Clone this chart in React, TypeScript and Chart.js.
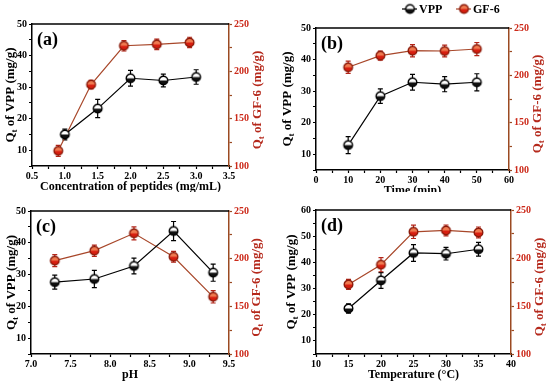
import React, { useEffect, useRef } from 'react';
import { Chart, registerables } from 'chart.js';

Chart.register(...registerables);

const FONT = "'Liberation Serif', 'Times New Roman', serif";

// ---- Panel (a): concentration of peptides ----
const aVppX = [1.0, 1.5, 2.0, 2.5, 3.0];
const aVpp = [15.0, 23.2, 32.8, 32.1, 33.2];
const aVppErr = [1.7, 2.9, 2.5, 2.0, 2.3];
const aGfX = [0.9, 1.4, 1.9, 2.4, 2.9];
const aGf = [116, 186, 227, 228.5, 230.5];
const aGfErr = [5.8, 4.6, 5.5, 5.6, 5.5];

// ---- Panel (b): time ----
const bX = [10, 20, 30, 40, 50];
const bVpp = [12.9, 28.4, 32.8, 32.2, 32.8];
const bVppErr = [2.7, 2.3, 2.5, 2.4, 2.7];
const bGf = [208.5, 220.8, 226.0, 225.7, 227.8];
const bGfErr = [6.5, 4.8, 6.5, 6.2, 6.9];

// ---- Panel (c): pH ----
const cX = [7.3, 7.8, 8.3, 8.8, 9.3];
const cVpp = [27.6, 28.6, 32.7, 43.7, 30.6];
const cVppErr = [2.2, 2.7, 2.5, 3.0, 2.7];
const cGf = [197.9, 208.4, 226.6, 202.0, 160.0];
const cGfErr = [6.3, 5.9, 6.8, 5.6, 6.5];

// ---- Panel (d): temperature ----
const dX = [15, 20, 25, 30, 35];
const dVpp = [22.4, 33.1, 43.6, 43.3, 45.0];
const dVppErr = [1.8, 3.0, 3.2, 2.4, 2.6];
const dGf = [172.5, 193.0, 227.3, 228.7, 226.6];
const dGfErr = [5.2, 7.3, 7.0, 5.7, 5.7];

// axis ranges: [min, max, minorStep, majorStep, decimals]
const aXAxis = [0.5, 3.5, 0.25, 0.5, 1];
const bXAxis = [0, 60, 5, 10, 0];
const cXAxis = [7.0, 9.5, 0.25, 0.5, 1];
const dXAxis = [10, 40, 2.5, 5, 0];
const vppAxisA = [5, 50, 5, 10];
const vppAxisD = [5, 60, 5, 10];
const gfAxis = [100, 250, 25, 50];

const seriesNames = ['VPP', 'GF-6'];
const panelLabels = ['(a)', '(b)', '(c)', '(d)'];
const xTitles = ['Concentration of peptides (mg/mL)', 'Time (min)', 'pH', 'Temperature (\u00B0C)'];

const BLACK = '#000000';
const RED_LINE = '#a8472a';
const RED_ERR = '#b3261a';
const RED_AXIS = '#9b4a22';
const RED_TICK = '#cc2a1a';
const RED_TITLE = '#b5291c';

function makeMarker(top: string, bottom: string, stroke: string, r = 4.3) {
  const c = document.createElement('canvas');
  const s = Math.ceil(r * 2 + 4);
  c.width = s;
  c.height = s;
  const ctx = c.getContext('2d')!;
  const cx = s / 2, cy = s / 2;
  ctx.beginPath();
  ctx.arc(cx, cy, r, 0, Math.PI * 2);
  ctx.fillStyle = top;
  ctx.fill();
  ctx.beginPath();
  ctx.arc(cx, cy, r, 0, Math.PI);
  ctx.closePath();
  ctx.fillStyle = bottom;
  ctx.fill();
  ctx.beginPath();
  ctx.arc(cx, cy, r, 0, Math.PI * 2);
  ctx.lineWidth = 1.4;
  ctx.strokeStyle = stroke;
  ctx.stroke();
  return c;
}

interface PanelCfg {
  idx: number;
  pos: { left: number; top: number; w: number; h: number };
  area: { l: number; r: number; t: number; b: number };
  xAxis: number[];
  yAxis: number[];
  vppX: number[]; vpp: number[]; vppErr: number[];
  gfX: number[]; gf: number[]; gfErr: number[];
  leftTitleX: number;
  rightTitleX: number;
  legend?: boolean;
}

const panels: PanelCfg[] = [
  {
    idx: 0, pos: { left: 0, top: 0, w: 275, h: 192 }, area: { l: 32, r: 229, t: 24, b: 166 },
    xAxis: aXAxis, yAxis: vppAxisA,
    vppX: aVppX, vpp: aVpp, vppErr: aVppErr, gfX: aGfX, gf: aGf, gfErr: aGfErr,
    leftTitleX: 11, rightTitleX: 258,
  },
  {
    idx: 1, pos: { left: 275, top: 0, w: 275, h: 192 }, area: { l: 41, r: 234, t: 28, b: 170 },
    xAxis: bXAxis, yAxis: vppAxisA,
    vppX: bX, vpp: bVpp, vppErr: bVppErr, gfX: bX, gf: bGf, gfErr: bGfErr,
    leftTitleX: 13, rightTitleX: 263, legend: true,
  },
  {
    idx: 2, pos: { left: 0, top: 192, w: 275, h: 191 }, area: { l: 31, r: 229, t: 19, b: 162 },
    xAxis: cXAxis, yAxis: vppAxisA,
    vppX: cX, vpp: cVpp, vppErr: cVppErr, gfX: cX, gf: cGf, gfErr: cGfErr,
    leftTitleX: 12, rightTitleX: 257,
  },
  {
    idx: 3, pos: { left: 275, top: 192, w: 275, h: 191 }, area: { l: 41, r: 236, t: 18, b: 162 },
    xAxis: dXAxis, yAxis: vppAxisD,
    vppX: dX, vpp: dVpp, vppErr: dVppErr, gfX: dX, gf: dGf, gfErr: dGfErr,
    leftTitleX: 17, rightTitleX: 265,
  },
];

function isMajor(v: number, major: number) {
  const q = v / major;
  return Math.abs(q - Math.round(q)) < 1e-6;
}

function drawQtTitle(ctx: CanvasRenderingContext2D, x: number, y: number, rest: string, color: string) {
  ctx.save();
  ctx.translate(x, y);
  ctx.rotate(-Math.PI / 2);
  ctx.fillStyle = color;
  ctx.textBaseline = 'middle';
  ctx.textAlign = 'left';
  const big = `bold 13px ${FONT}`;
  const small = `bold 9px ${FONT}`;
  ctx.font = big;
  const wQ = ctx.measureText('Q').width;
  const wRest = ctx.measureText(rest).width;
  ctx.font = small;
  const wT = ctx.measureText('t').width;
  const total = wQ + wT + wRest;
  let cx = -total / 2;
  ctx.font = big;
  ctx.fillText('Q', cx, 0);
  cx += wQ;
  ctx.font = small;
  ctx.fillText('t', cx, 3.5);
  cx += wT;
  ctx.font = big;
  ctx.fillText(rest, cx, 0);
  ctx.restore();
}

function Panel({ cfg }: { cfg: PanelCfg }) {
  const ref = useRef<HTMLCanvasElement | null>(null);
  useEffect(() => {
    const canvas = ref.current!;
    const blackMarker = makeMarker('#ffffff', '#111111', '#000000');
    const redMarker = makeMarker('#f07a50', '#d81e10', '#8a1a0a');
    const { area, pos } = cfg;
    const [xMin, xMax, xStep, xMajor, xDec] = cfg.xAxis;
    const [yMin, yMax, yStep, yMajor] = cfg.yAxis;
    const [gMin, gMax, gStep, gMajor] = gfAxis;
    const xTitleSize = 12;
    const xTitleLH = xTitleSize * 1.2;
    const xTitlePadBottom = pos.h - area.b - 20.5 - xTitleLH / 2;

    const overlay = {
      id: 'overlay' + cfg.idx,
      beforeDatasetsDraw(chart: any) {
        const ctx = chart.ctx as CanvasRenderingContext2D;
        const specs = [
          { ds: 0, errs: cfg.vppErr, vals: cfg.vpp, scale: chart.scales.y, color: BLACK },
          { ds: 1, errs: cfg.gfErr, vals: cfg.gf, scale: chart.scales.y2, color: RED_ERR },
        ];
        ctx.save();
        for (const s of specs) {
          const meta = chart.getDatasetMeta(s.ds);
          ctx.strokeStyle = s.color;
          ctx.lineWidth = 1.2;
          meta.data.forEach((pt: any, j: number) => {
            const yT = s.scale.getPixelForValue(s.vals[j] + s.errs[j]);
            const yB = s.scale.getPixelForValue(s.vals[j] - s.errs[j]);
            ctx.beginPath();
            ctx.moveTo(pt.x, yT); ctx.lineTo(pt.x, yB);
            ctx.moveTo(pt.x - 2.5, yT); ctx.lineTo(pt.x + 2.5, yT);
            ctx.moveTo(pt.x - 2.5, yB); ctx.lineTo(pt.x + 2.5, yB);
            ctx.stroke();
          });
        }
        ctx.restore();
      },
      afterDraw(chart: any) {
        const ctx = chart.ctx as CanvasRenderingContext2D;
        const ca = chart.chartArea;
        ctx.save();
        // top frame line
        ctx.strokeStyle = BLACK;
        ctx.lineWidth = 1.5;
        ctx.beginPath();
        ctx.moveTo(ca.left, ca.top);
        ctx.lineTo(ca.right, ca.top);
        ctx.stroke();
        // panel label
        ctx.fillStyle = BLACK;
        ctx.font = `bold 18px ${FONT}`;
        ctx.textBaseline = 'middle';
        ctx.textAlign = 'left';
        ctx.fillText(panelLabels[cfg.idx], ca.left + 5, ca.top + 16);
        // y titles
        const midY = (ca.top + ca.bottom) / 2;
        drawQtTitle(ctx, cfg.leftTitleX, midY, ' of VPP (mg/g)', BLACK);
        drawQtTitle(ctx, cfg.rightTitleX, midY + 5, ' of GF-6 (mg/g)', RED_TITLE);
        // legend
        if (cfg.legend) {
          const items = [
            { x: 127, name: seriesNames[0], line: BLACK, marker: blackMarker },
            { x: 181, name: seriesNames[1], line: RED_LINE, marker: redMarker },
          ];
          const ly = 9;
          for (const it of items) {
            ctx.strokeStyle = it.line;
            ctx.lineWidth = 1.2;
            ctx.beginPath();
            ctx.moveTo(it.x, ly);
            ctx.lineTo(it.x + 15, ly);
            ctx.stroke();
            const m = it.marker;
            ctx.drawImage(m, it.x + 8 - m.width / 2, ly - m.height / 2);
            ctx.fillStyle = BLACK;
            ctx.font = `bold 12px ${FONT}`;
            ctx.textAlign = 'left';
            ctx.textBaseline = 'middle';
            ctx.fillText(it.name, it.x + 17, ly + 1);
          }
        }
        ctx.restore();
      },
    };

    const tickFont = { family: FONT, size: 10, weight: 'bold' as const };

    const chart = new Chart(canvas, {
      type: 'line',
      data: {
        datasets: [
          {
            label: seriesNames[0],
            data: cfg.vppX.map((x, i) => ({ x, y: cfg.vpp[i] })),
            yAxisID: 'y',
            borderColor: BLACK,
            borderWidth: 1.2,
            pointStyle: blackMarker as any,
            pointRadius: 5,
            tension: 0,
          },
          {
            label: seriesNames[1],
            data: cfg.gfX.map((x, i) => ({ x, y: cfg.gf[i] })),
            yAxisID: 'y2',
            borderColor: RED_LINE,
            borderWidth: 1.2,
            pointStyle: redMarker as any,
            pointRadius: 5,
            tension: 0,
          },
        ],
      },
      options: {
        responsive: false,
        animation: false,
        devicePixelRatio: 1,
        layout: { padding: { top: area.t, left: 0, right: 0, bottom: 0 } },
        plugins: { legend: { display: false }, tooltip: { enabled: false } },
        scales: {
          x: {
            type: 'linear',
            min: xMin, max: xMax,
            afterFit: (s: any) => { s.height = pos.h - area.b; },
            afterBuildTicks: (s: any) => {
              const t = [];
              for (let v = xMin; v <= xMax + 1e-9; v += xStep) t.push({ value: +v.toFixed(4) });
              s.ticks = t;
            },
            ticks: {
              autoSkip: false, maxRotation: 0, minRotation: 0, padding: 1, color: BLACK, font: tickFont,
              callback: (v: any) => (isMajor(+v, xMajor) ? (+v).toFixed(xDec) : ''),
            },
            grid: { drawOnChartArea: false, drawTicks: true, tickLength: 3, color: BLACK, tickColor: BLACK, tickWidth: 1.2 },
            border: { display: true, color: BLACK, width: 1.5 },
            title: { display: true, text: xTitles[cfg.idx], color: BLACK, font: { family: FONT, size: xTitleSize, weight: 'bold', lineHeight: 1.2 }, padding: { top: 0, bottom: xTitlePadBottom } },
          },
          y: {
            type: 'linear', position: 'left',
            min: yMin, max: yMax,
            afterFit: (s: any) => { s.width = area.l; },
            afterBuildTicks: (s: any) => {
              const t = [];
              for (let v = yMin; v <= yMax + 1e-9; v += yStep) t.push({ value: v });
              s.ticks = t;
            },
            ticks: {
              autoSkip: false, padding: 2, color: BLACK, font: tickFont,
              callback: (v: any) => (isMajor(+v, yMajor) ? String(v) : ''),
            },
            grid: { drawOnChartArea: false, drawTicks: true, tickLength: 3, color: BLACK, tickColor: BLACK, tickWidth: 1.2 },
            border: { display: true, color: BLACK, width: 1.5 },
          },
          y2: {
            type: 'linear', position: 'right',
            min: gMin, max: gMax,
            afterFit: (s: any) => { s.width = pos.w - area.r; },
            afterBuildTicks: (s: any) => {
              const t = [];
              for (let v = gMin; v <= gMax + 1e-9; v += gStep) t.push({ value: v });
              s.ticks = t;
            },
            ticks: {
              autoSkip: false, padding: 2, color: RED_TICK, font: tickFont,
              callback: (v: any) => (isMajor(+v, gMajor) ? String(v) : ''),
            },
            grid: { drawOnChartArea: false, drawTicks: true, tickLength: 3, color: RED_AXIS, tickColor: RED_AXIS, tickWidth: 1.2 },
            border: { display: true, color: RED_AXIS, width: 1.5 },
          },
        },
      } as any,
      plugins: [overlay],
    });
    return () => chart.destroy();
  }, [cfg]);

  return (
    <canvas
      ref={ref}
      width={cfg.pos.w}
      height={cfg.pos.h}
      style={{ position: 'absolute', left: cfg.pos.left, top: cfg.pos.top, width: cfg.pos.w, height: cfg.pos.h }}
    />
  );
}

export default function App() {
  return (
    <div style={{ position: 'absolute', left: 0, top: 0, width: 550, height: 383, background: '#ffffff', overflow: 'hidden' }}>
      {panels.map((p) => (
        <Panel key={p.idx} cfg={p} />
      ))}
    </div>
  );
}
